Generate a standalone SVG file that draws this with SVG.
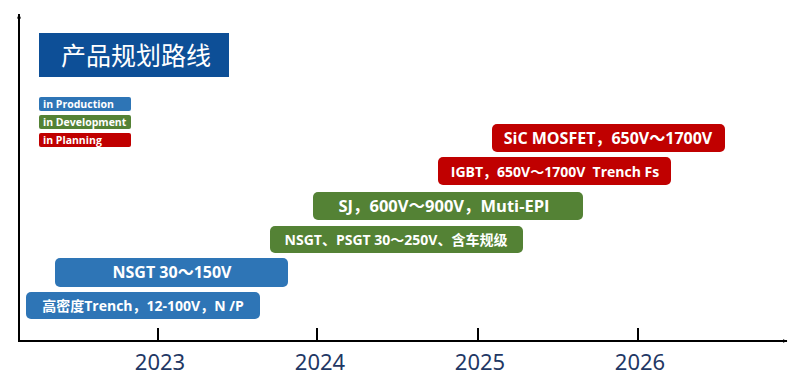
<svg xmlns="http://www.w3.org/2000/svg" width="800" height="386" viewBox="0 0 800 386">
<style>
.bar{stroke:none}
.blue{fill:#2e75b6}
.green{fill:#548235}
.red{fill:#c00000}
.t{font-family:"Open Sans","Noto Sans CJK SC",sans-serif;font-weight:bold;fill:#fff;text-anchor:middle;white-space:pre}
.lg{font-family:"Open Sans","Noto Sans CJK SC",sans-serif;font-weight:bold;fill:#fff;font-size:10.5px}
.yr{font-family:"Noto Sans","Open Sans",sans-serif;font-size:22px;fill:#1f3864;text-anchor:middle}
.ax{stroke:#000;stroke-width:2;fill:none}
</style>
<defs>
<marker id="ah" viewBox="0 0 10 10" refX="9" refY="5" markerWidth="5" markerHeight="5" orient="auto" markerUnits="userSpaceOnUse">
<path d="M0,1 L10,5 L0,9 z" fill="#000"/>
</marker>
</defs>
<rect width="800" height="386" fill="#fff"/>
<g id="connectors">
<line class="ax" x1="19" y1="341" x2="19" y2="14" marker-end="url(#ah)"/>
<line class="ax" x1="18" y1="341" x2="787" y2="341" marker-end="url(#ah)"/>
<line class="ax" x1="158" y1="328" x2="158" y2="341"/>
<line class="ax" x1="317" y1="328" x2="317" y2="341"/>
<line class="ax" x1="478" y1="328" x2="478" y2="341"/>
<line class="ax" x1="638" y1="328" x2="638" y2="341"/>
</g>
<g id="title">
<rect x="39" y="33" width="190" height="44" fill="#0d4f97"/>
<text x="136" y="65" font-family="Noto Sans CJK SC,sans-serif" font-size="25" fill="#fff" text-anchor="middle">产品规划路线</text>
</g>
<g id="legend-production">
<rect x="39" y="97" width="92" height="14" rx="2" class="blue"/>
<text x="43" y="108" class="lg">in Production</text>
</g>
<g id="legend-development">
<rect x="39" y="115" width="92" height="14" rx="2" class="green"/>
<text x="43" y="126" class="lg">in Development</text>
</g>
<g id="legend-planning">
<rect x="39" y="133" width="92" height="14" rx="2" class="red"/>
<text x="43" y="144" class="lg">in Planning</text>
</g>
<g id="sic">
<rect x="492" y="124" width="233" height="28" rx="5" class="red"/>
<text x="608" y="144" class="t" font-size="16">SiC MOSFET，650V～1700V</text>
</g>
<g id="igbt">
<rect x="438" y="157" width="233" height="28" rx="5" class="red"/>
<text x="555" y="177" class="t" font-size="14" xml:space="preserve">IGBT，650V～1700V  Trench Fs</text>
</g>
<g id="sj">
<rect x="313" y="192" width="270" height="28" rx="5" class="green"/>
<text x="444" y="212" class="t" font-size="16.5">SJ，600V～900V，Muti-EPI</text>
</g>
<g id="nsgt-psgt">
<rect x="270" y="226" width="253" height="27" rx="5" class="green"/>
<text x="396" y="245" class="t" font-size="14">NSGT、PSGT 30～250V、含车规级</text>
</g>
<g id="nsgt">
<rect x="55" y="258" width="233" height="29" rx="5" class="blue"/>
<text x="172" y="278" class="t" font-size="16">NSGT 30～150V</text>
</g>
<g id="trench">
<rect x="26" y="292" width="234" height="27" rx="5" class="blue"/>
<text x="143" y="311" class="t" font-size="14">高密度Trench，12-100V，N /P</text>
</g>
<g id="years">
<text x="160" y="370" class="yr">2023</text>
<text x="320" y="370" class="yr">2024</text>
<text x="480" y="370" class="yr">2025</text>
<text x="640" y="370" class="yr">2026</text>
</g>
</svg>
